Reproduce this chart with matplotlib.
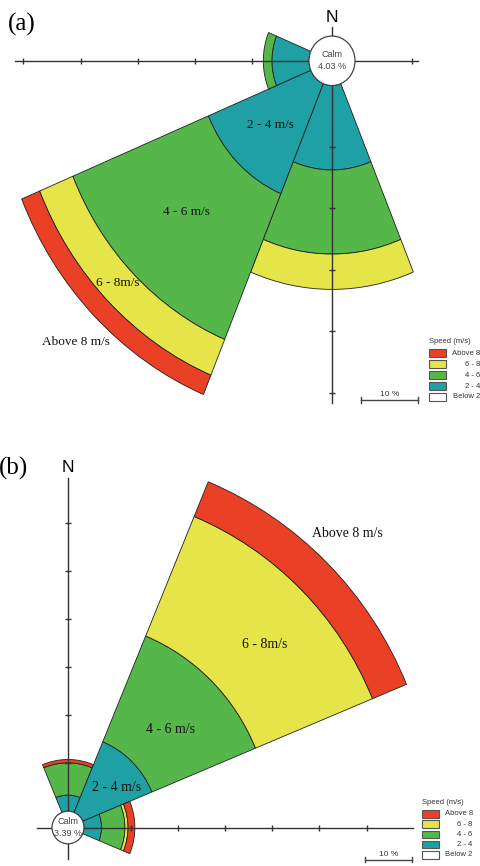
import matplotlib
matplotlib.use("Agg")
import matplotlib.pyplot as plt
from matplotlib.patches import Wedge, Circle, Rectangle

# ---------------- data ----------------
speed_classes = ["Above 8", "6 - 8", "4 - 6", "2 - 4", "Below 2"]
class_colors = ["#EA4126", "#E5E54A", "#55B74A", "#1FA0A5", "#FFFFFF"]

# (a) sectors: bearing (deg from N) and frequency (%) per speed class
a_bearing = [180, 225, 270]
a_below2 = [0.0, 0.0, 0.0]
a_2_4 = [13.75, 19.4, 6.5]
a_4_6 = [13.7, 25.7, 1.5]
a_6_8 = [5.75, 6.3, 0.0]
a_above8 = [0.0, 3.4, 0.0]
a_calm = 4.03

# (b) sectors
b_bearing = [0, 45, 90]
b_below2 = [0.0, 0.0, 0.0]
b_2_4 = [3.35, 15.9, 3.75]
b_4_6 = [6.7, 23.8, 4.95]
b_6_8 = [0.0, 26.9, 0.65]
b_above8 = [0.7, 7.8, 1.45]
b_calm = 3.39

a_labels = ["2 - 4 m/s", "4 - 6 m/s", "6 - 8m/s", "Above 8 m/s"]
b_labels = ["Above 8 m/s", "6 - 8m/s", "4 - 6 m/s", "2 - 4 m/s"]

SECTOR = 45.0
W, H = 480, 866
SERIF = ["Liberation Serif", "DejaVu Serif"]
SANS = ["Liberation Sans", "DejaVu Sans"]

fig = plt.figure(figsize=(W / 100, H / 100), dpi=100)
fig.patch.set_facecolor("white")


def panel_axes(cx, cy, sx, sy):
    """Axes in % units with the rose centre at pixel (cx, cy)."""
    ax = fig.add_axes([0, 0, 1, 1])
    ax.set_xlim(-cx / sx, (W - cx) / sx)
    ax.set_ylim(-(H - cy) / sy, cy / sy)
    ax.axis("off")
    ax.patch.set_alpha(0)
    return ax


def draw_rose(ax, bearings, classes, calm):
    below2, s24, s46, s68, s8 = classes
    for i, b in enumerate(bearings):
        t1 = 90 - b - SECTOR / 2
        t2 = 90 - b + SECTOR / 2
        inner = calm
        for vals, col in zip([below2, s24, s46, s68, s8], class_colors[::-1]):
            v = vals[i]
            if v <= 0:
                continue
            ax.add_patch(Wedge((0, 0), inner + v, t1, t2, width=v,
                               facecolor=col, edgecolor="#202020",
                               linewidth=0.6, zorder=1))
            inner += v
    ax.add_patch(Circle((0, 0), calm, facecolor="white", edgecolor="#444444",
                        linewidth=0.9, zorder=5))


def draw_axes_lines(ax, calm, xext, yext, xticks, yticks):
    kw = dict(color="#333333", linewidth=1.0, zorder=3)
    ax.plot([xext[0], xext[1]], [0, 0], **kw)
    ax.plot([0, 0], [yext[0], yext[1]], **kw)
    ax.plot([calm + t for t in xticks[1]] + [-(calm + t) for t in xticks[0]],
            [0] * (len(xticks[1]) + len(xticks[0])),
            linestyle="none", marker="|", ms=4.5, mew=1.0, color="#333333", zorder=3)
    ax.plot([0] * (len(yticks[1]) + len(yticks[0])),
            [calm + t for t in yticks[1]] + [-(calm + t) for t in yticks[0]],
            linestyle="none", marker="_", ms=4.5, mew=1.0, color="#333333", zorder=3)


def scale_bar(ax, x0, y0, label_dy):
    kw = dict(color="#444444", linewidth=1.0)
    ax.plot([x0, x0 + 10], [y0, y0], **kw)
    ax.plot([x0, x0], [y0 - 0.5, y0 + 0.5], **kw)
    ax.plot([x0 + 10, x0 + 10], [y0 - 0.5, y0 + 0.5], **kw)
    ax.text(x0 + 5, y0 + label_dy, "10 %", ha="center", va="bottom",
            fontsize=6, family=SANS, color="#333333")


# ---------------- panel (a) ----------------
ax_a = panel_axes(332, 60.8, 5.71, 6.14)
draw_rose(ax_a, a_bearing, [a_below2, a_2_4, a_4_6, a_6_8, a_above8], a_calm)
draw_axes_lines(ax_a, a_calm, (-55.5, 15.1), (-55.7, 5.55),
                ([10, 20, 30, 40, 50], [10]), ([10, 20, 30, 40, 50], []))
scale_bar(ax_a, 5.1, -55.3, 0.3)

# ---------------- panel (b) ----------------
ax_b = panel_axes(68, 827.5, 4.71, 4.81)
draw_rose(ax_b, b_bearing, [b_below2, b_2_4, b_4_6, b_6_8, b_above8], b_calm)
draw_axes_lines(ax_b, b_calm, (-6.65, 73.2), (-6.55, 72.7),
                ([], [10, 20, 30, 40, 50, 60]), ([], [10, 20, 30, 40, 50, 60]))
scale_bar(ax_b, 63.0, -6.7, 0.4)

# ---------------- annotations (pixel space) ----------------
ov = fig.add_axes([0, 0, 1, 1])
ov.set_xlim(0, W)
ov.set_ylim(H, 0)
ov.axis("off")
ov.patch.set_alpha(0)

ov.text(22, 24, "(a)", ha="center", va="center", fontsize=18, family=SERIF)
ov.text(14, 468, "(b)", ha="center", va="center", fontsize=18, family=SERIF)
ov.text(332, 17, "N", ha="center", va="center", fontsize=12.5, family=SANS)
ov.text(68, 467.5, "N", ha="center", va="center", fontsize=12.5, family=SANS)

for (cx, cy), calm in [((332, 60.8), a_calm), ((68, 827.5), b_calm)]:
    ov.text(cx, cy - 6.3, "Calm", ha="center", va="center", fontsize=6.5,
            family=SANS, color="#444444", zorder=10)
    ov.text(cx, cy + 5.6, f"{calm:.2f} %", ha="center", va="center", fontsize=6.5,
            family=SANS, color="#444444", zorder=10)

for txt, (x, y) in zip(a_labels, [(270, 124.5), (186, 212), (118, 283.5), (75.7, 341.7)]):
    ov.text(x, y, txt, ha="center", va="center", fontsize=9.5, family=SERIF,
            color="#111111")
for txt, (x, y) in zip(b_labels, [(347.2, 533.3), (264.5, 644), (171, 729.3), (116.7, 787.7)]):
    ov.text(x, y, txt, ha="center", va="center", fontsize=10, family=SERIF,
            color="#111111")


def legend(x0, ytitle, y_first, step, pw, ph, xr):
    ov.text(x0, ytitle, "Speed (m/s)", ha="left", va="center", fontsize=5.5,
            family=SANS, color="#333333")
    for k, (lab, col) in enumerate(zip(speed_classes, class_colors)):
        yc = y_first + k * step
        ov.add_patch(Rectangle((x0, yc - ph / 2), pw, ph, facecolor=col,
                               edgecolor="#555555", linewidth=0.8))
        ov.text(xr, yc, lab, ha="right", va="center", fontsize=5.5,
                family=SANS, color="#333333")


legend(429, 341.7, 353.3, 10.9, 16.7, 8.3, 480)
legend(422.3, 802.7, 813.7, 10.3, 17, 7.6, 472.7)

fig.savefig("out.png", dpi=100, facecolor="white")
